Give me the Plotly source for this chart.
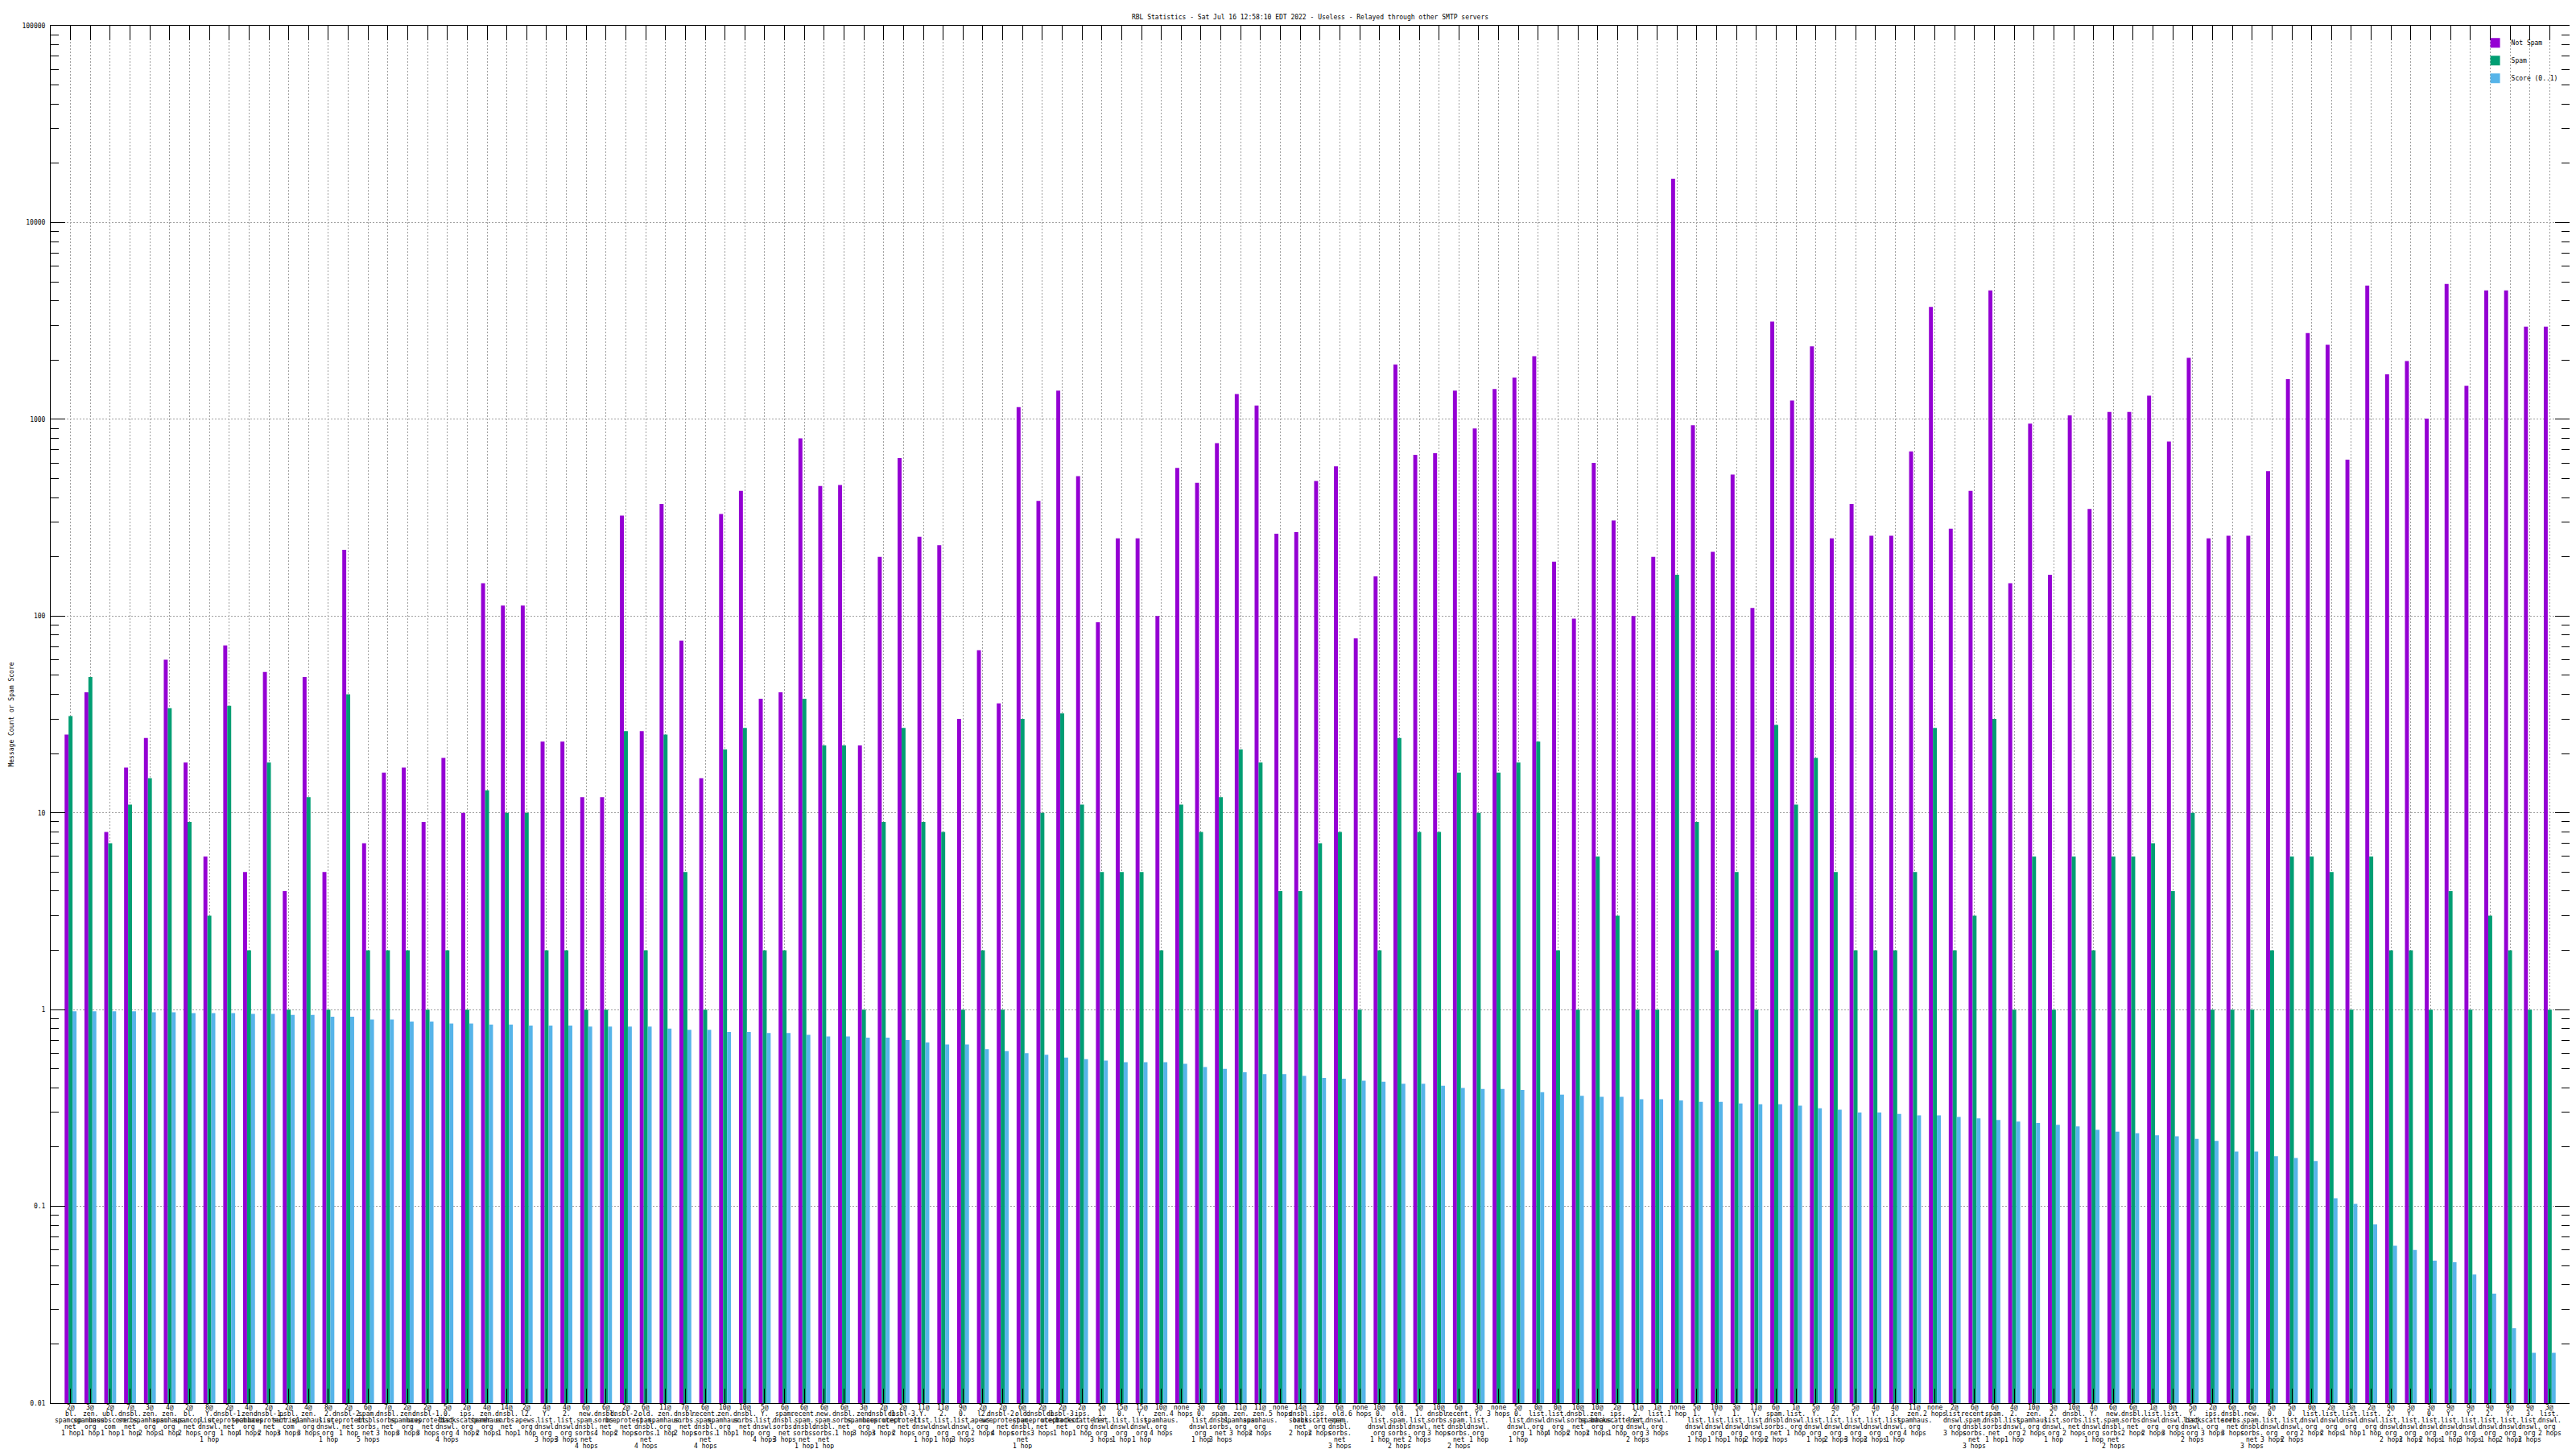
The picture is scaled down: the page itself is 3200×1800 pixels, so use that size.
import plotly.graph_objects as go

# ---------------- data ----------------
prefixes = [
    "2@", "3@", "2@", "7@", "3@", "4@", "2@", "8@", "2@", "4@",
    "2@", "2@", "4@", "8@", "2@", "6@", "7@", "2@", "2@", "5@",
    "2@", "4@", "14@", "2@", "4@", "4@", "6@", "6@", "2@", "6@",
    "11@", "7@", "6@", "10@", "10@", "5@", "6@", "6@", "6@", "6@",
    "3@", "2@", "2@", "11@", "11@", "9@", "2@", "2@", "6@", "2@",
    "2@", "2@", "5@", "15@", "15@", "10@", "none", "3@", "6@", "11@",
    "11@", "none", "14@", "2@", "6@", "none", "10@", "6@", "5@", "10@",
    "6@", "3@", "none", "5@", "0@", "0@", "10@", "10@", "2@", "11@",
    "1@", "none", "5@", "10@", "3@", "11@", "6@", "1@", "5@", "4@",
    "5@", "4@", "4@", "11@", "none", "2@", "6@", "6@", "4@", "10@",
    "3@", "10@", "4@", "6@", "6@", "1@", "0@", "5@", "2@", "6@",
    "6@", "5@", "5@", "0@", "2@", "3@", "2@", "9@", "3@", "3@",
    "9@", "9@", "9@", "9@", "9@", "3@",
]

zones = [
    "bl.spamcop.net", "zen.spamhaus.org", "ubl.unsubscore.com", "dnsbl.sorbs.net", "zen.spamhaus.org",
    "zen.spamhaus.org", "bl.spamcop.net", "Y.list.dnswl.org", "dnsbl-1.uceprotect.net", "zen.spamhaus.org",
    "dnsbl-1.uceprotect.net", "psbl.surriel.com", "zen.spamhaus.org", "2.list.dnswl.org", "dnsbl-2.uceprotect.net",
    "spam.dnsbl.sorbs.net", "dnsbl.sorbs.net", "zen.spamhaus.org", "dnsbl-1.uceprotect.net", "0.list.dnswl.org",
    "ips.backscatterer.org", "zen.spamhaus.org", "dnsbl.sorbs.net", "l2.apews.org", "Y.list.dnswl.org",
    "2.list.dnswl.org", "new.spam.dnsbl.sorbs.net", "dnsbl.sorbs.net", "dnsbl-2.uceprotect.net", "old.spam.dnsbl.sorbs.net",
    "zen.spamhaus.org", "dnsbl.sorbs.net", "recent.spam.dnsbl.sorbs.net", "zen.spamhaus.org", "dnsbl.sorbs.net",
    "Y.list.dnswl.org", "spam.dnsbl.sorbs.net", "recent.spam.dnsbl.sorbs.net", "new.spam.dnsbl.sorbs.net", "dnsbl.sorbs.net",
    "zen.spamhaus.org", "dnsbl-1.uceprotect.net", "dnsbl-3.uceprotect.net", "Y.list.dnswl.org", "2.list.dnswl.org",
    "0.list.dnswl.org", "l2.apews.org", "dnsbl-2.uceprotect.net", "old.spam.dnsbl.sorbs.net", "dnsbl-1.uceprotect.net",
    "dnsbl-3.uceprotect.net", "ips.backscatterer.org", "1.list.dnswl.org", "0.list.dnswl.org", "Y.list.dnswl.org",
    "zen.spamhaus.org", "", "0.list.dnswl.org", "spam.dnsbl.sorbs.net", "zen.spamhaus.org",
    "zen.spamhaus.org", "", "dnsbl.sorbs.net", "ips.backscatterer.org", "old.spam.dnsbl.sorbs.net",
    "", "0.list.dnswl.org", "old.spam.dnsbl.sorbs.net", "1.list.dnswl.org", "dnsbl.sorbs.net",
    "recent.spam.dnsbl.sorbs.net", "Y.list.dnswl.org", "", "0.list.dnswl.org", "list.dnswl.org",
    "list.dnswl.org", "dnsbl.sorbs.net", "zen.spamhaus.org", "ips.backscatterer.org", "2.list.dnswl.org",
    "list.dnswl.org", "", "1.list.dnswl.org", "Y.list.dnswl.org", "1.list.dnswl.org",
    "Y.list.dnswl.org", "spam.dnsbl.sorbs.net", "list.dnswl.org", "Y.list.dnswl.org", "2.list.dnswl.org",
    "Y.list.dnswl.org", "Y.list.dnswl.org", "3.list.dnswl.org", "zen.spamhaus.org", "",
    "list.dnswl.org", "recent.spam.dnsbl.sorbs.net", "spam.dnsbl.sorbs.net", "2.list.dnswl.org", "zen.spamhaus.org",
    "2.list.dnswl.org", "dnsbl.sorbs.net", "Y.list.dnswl.org", "new.spam.dnsbl.sorbs.net", "dnsbl.sorbs.net",
    "list.dnswl.org", "list.dnswl.org", "Y.list.dnswl.org", "ips.backscatterer.org", "dnsbl.sorbs.net",
    "new.spam.dnsbl.sorbs.net", "0.list.dnswl.org", "0.list.dnswl.org", "list.dnswl.org", "list.dnswl.org",
    "list.dnswl.org", "list.dnswl.org", "2.list.dnswl.org", "Y.list.dnswl.org", "0.list.dnswl.org",
    "Y.list.dnswl.org", "Y.list.dnswl.org", "2.list.dnswl.org", "Y.list.dnswl.org", "3.list.dnswl.org",
    "list.dnswl.org",
]

hops = [
    1, 1, 1, 1, 2, 1, 2, 1, 1, 4,
    2, 3, 3, 1, 1, 5, 3, 3, 3, 4,
    4, 2, 1, 1, 3, 3, 4, 4, 2, 4,
    1, 2, 4, 1, 1, 4, 3, 1, 1, 1,
    3, 3, 2, 1, 1, 3, 2, 4, 1, 3,
    1, 1, 3, 1, 1, 4, 4, 1, 3, 3,
    2, 5, 2, 2, 3, 6, 1, 2, 2, 3,
    2, 1, 3, 1, 1, 4, 2, 2, 1, 2,
    3, 1, 1, 1, 1, 2, 2, 1, 1, 2,
    3, 2, 1, 4, 2, 3, 3, 1, 1, 2,
    1, 2, 1, 2, 2, 2, 3, 2, 3, 3,
    3, 3, 2, 2, 2, 1, 1, 2, 2, 2,
    1, 3, 1, 2, 2, 2,
]

not_spam = [
    25, 41, 8, 17, 24, 60, 18, 6, 71, 5,
    52, 4, 49, 5, 217, 7, 16, 17, 9, 19,
    10, 147, 113, 113, 23, 23, 12, 12, 324, 26,
    371, 75, 15, 330, 433, 38, 41, 800, 458, 463,
    22, 200, 635, 253, 229, 30, 67, 36, 1154, 385,
    1399, 514, 93, 248, 248, 100, 566, 476, 756, 1345,
    1175, 262, 267, 486, 577, 77, 159, 1901, 660, 673,
    1399, 898, 1426, 1630, 2094, 189, 97, 600, 306, 100,
    200, 16700, 933, 212, 524, 110, 3134, 1245, 2349, 248,
    371, 256, 256, 686, 3727, 278, 433, 4518, 147, 951,
    162, 1047, 350, 1089, 1089, 1320, 770, 2053, 248, 256,
    256, 545, 1600, 2741, 2394, 623, 4786, 1694, 1977, 1008,
    4877, 1481, 4518, 4518, 2959, 2959,
]

spam = [
    31, 49, 7, 11, 15, 34, 9, 3, 35, 2,
    18, 1, 12, 1, 40, 2, 2, 2, 1, 2,
    1, 13, 10, 10, 2, 2, 1, 1, 26, 2,
    25, 5, 1, 21, 27, 2, 2, 38, 22, 22,
    1, 9, 27, 9, 8, 1, 2, 1, 30, 10,
    32, 11, 5, 5, 5, 2, 11, 8, 12, 21,
    18, 4, 4, 7, 8, 1, 2, 24, 8, 8,
    16, 10, 16, 18, 23, 2, 1, 6, 3, 1,
    1, 162, 9, 2, 5, 1, 28, 11, 19, 5,
    2, 2, 2, 5, 27, 2, 3, 30, 1, 6,
    1, 6, 2, 6, 6, 7, 4, 10, 1, 1,
    1, 2, 6, 6, 5, 1, 6, 2, 2, 1,
    4, 1, 3, 2, 1, 1,
]

score = [
    0.98, 0.98, 0.98, 0.98, 0.97, 0.97, 0.96, 0.96, 0.96, 0.95,
    0.95, 0.94, 0.94, 0.92, 0.92, 0.89, 0.89, 0.87, 0.87, 0.85,
    0.85, 0.84, 0.84, 0.83, 0.83, 0.83, 0.82, 0.82, 0.82, 0.82,
    0.80, 0.79, 0.79, 0.77, 0.77, 0.76, 0.76, 0.745, 0.73, 0.73,
    0.72, 0.72, 0.70, 0.68, 0.665, 0.665, 0.63, 0.615, 0.60, 0.59,
    0.57, 0.56, 0.55, 0.54, 0.54, 0.54, 0.53, 0.51, 0.50, 0.48,
    0.47, 0.47, 0.46, 0.45, 0.445, 0.435, 0.43, 0.42, 0.42, 0.41,
    0.40, 0.395, 0.395, 0.39, 0.38, 0.37, 0.365, 0.36, 0.36, 0.35,
    0.35, 0.345, 0.34, 0.34, 0.333, 0.33, 0.33, 0.325, 0.315, 0.31,
    0.30, 0.30, 0.295, 0.29, 0.29, 0.285, 0.28, 0.275, 0.27, 0.265,
    0.26, 0.255, 0.245, 0.24, 0.235, 0.23, 0.227, 0.22, 0.215, 0.19,
    0.19, 0.18, 0.176, 0.17, 0.11, 0.103, 0.081, 0.063, 0.06, 0.053,
    0.052, 0.045, 0.036, 0.024, 0.018, 0.018,
]

y_tick_vals = [0.01, 0.1, 1, 10, 100, 1000, 10000, 100000]
y_tick_text = ["0.01", "0.1", "1", "10", "100", "1000", "10000", "100000"]

title_text = "RBL Statistics - Sat Jul 16 12:58:10 EDT 2022 - Useless - Relayed through other SMTP servers"
y_title = "Message Count or Spam Score"
series_names = ["Not Spam", "Spam", "Score (0..1)"]
series_colors = ["#9400D3", "#009E73", "#56B4E9"]

# ---------------- figure ----------------
FONT = "DejaVu Sans Mono"
n = len(prefixes)
xs = list(range(n))

fig = go.Figure()
for name, vals, col in zip(series_names, [not_spam, spam, score], series_colors):
    fig.add_trace(go.Bar(x=xs, y=vals, name=name, legendgroup=name,
                         marker=dict(color=col, line=dict(width=0))))


def label_lines(p, z, h):
    lines = [p]
    if z:
        parts = z.split(".")
        lines += [s + "." for s in parts[:-1]] + [parts[-1]]
    lines.append(f"{h} hop" + ("" if h == 1 else "s"))
    return lines


annotations = []
for i, (p, z, h) in enumerate(zip(prefixes, zones, hops)):
    for k, line in enumerate(label_lines(p, z, h)):
        annotations.append(dict(
            x=i, xref="x", y=0, yref="paper", yanchor="middle", xanchor="center",
            yshift=-(5.0 + 8.1 * k), text=line, showarrow=False,
            font=dict(family=FONT, size=8, color="black"),
        ))

fig.update_layout(
    width=3200, height=1800,
    paper_bgcolor="white", plot_bgcolor="white",
    margin=dict(l=55, r=16, t=24, b=65, pad=0),
    barmode="group", bargap=0.4, bargroupgap=0,
    font=dict(family=FONT, size=8, color="black"),
    title=dict(text=title_text, x=0.5, xref="paper", xanchor="center",
               y=1 - 13 / 1800, yref="container", yanchor="middle",
               font=dict(family=FONT, size=8, color="black")),
    legend=dict(x=0.997, y=0.996, xanchor="right", yanchor="top",
                bgcolor="rgba(255,255,255,0)", font=dict(family=FONT, size=8),
                tracegroupgap=3),
    annotations=annotations,
    showlegend=True,
)

fig.update_xaxes(
    range=[-1, n], tickmode="array", tickvals=xs, showticklabels=False,
    ticks="inside", ticklen=18, tickcolor="black", tickwidth=1,
    showline=True, linecolor="black", linewidth=1, mirror="ticks",
    showgrid=True, gridcolor="#a0a0a0", griddash="2px,2px", gridwidth=1,
    zeroline=False,
)
fig.update_yaxes(
    type="log", range=[-2, 5], tickmode="array", tickvals=y_tick_vals, ticktext=y_tick_text,
    ticks="inside", ticklen=18, tickcolor="black", tickwidth=1, ticklabelstandoff=4,
    showline=True, linecolor="black", linewidth=1, mirror="ticks",
    showgrid=True, gridcolor="#a0a0a0", griddash="2px,2px", gridwidth=1,
    minor=dict(ticks="inside", ticklen=10, tickcolor="black", dtick="D1", showgrid=False),
    zeroline=False,
    title=dict(text=y_title, standoff=8, font=dict(family=FONT, size=8)),
    automargin=False,
)

fig.write_html("out.html")
